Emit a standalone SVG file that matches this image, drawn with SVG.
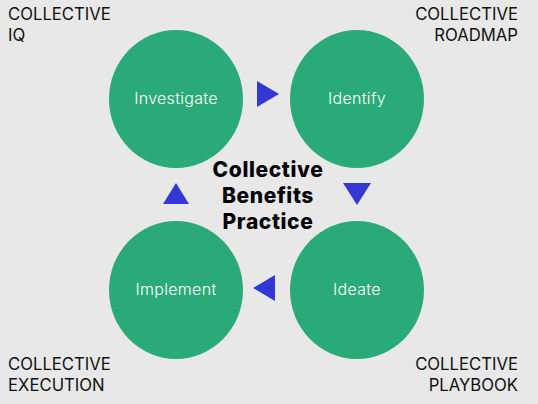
<svg xmlns="http://www.w3.org/2000/svg" width="538" height="404" viewBox="0 0 538 404">
  <style>
    .node circle, .node ellipse { fill: #2aaa78; }
    .node text { fill: #ffffff; font-family: Inter, "Open Sans", "Liberation Sans", sans-serif; font-size: 16px; font-weight: 300; text-anchor: middle; letter-spacing: 0.3px; }
    .arrow { fill: #3338d4; }
    .corner { fill: #111111; font-family: Inter, "Open Sans", "Liberation Sans", sans-serif; font-size: 16.7px; font-weight: 400; }
    .title { fill: #000000; font-family: Inter, "Open Sans", "Liberation Sans", sans-serif; font-size: 21px; font-weight: 800; text-anchor: middle; letter-spacing: 0.6px; }
  </style>
  <rect x="0" y="0" width="538" height="404" fill="#e8e8e8"/>

  <g id="investigate" class="node">
    <ellipse cx="176" cy="99" rx="67" ry="69"/>
    <text x="176" y="104">Investigate</text>
  </g>
  <g id="identify" class="node">
    <ellipse cx="357" cy="99" rx="67" ry="69"/>
    <text x="357" y="104">Identify</text>
  </g>
  <g id="ideate" class="node">
    <ellipse cx="357" cy="290" rx="67" ry="69"/>
    <text x="357" y="295">Ideate</text>
  </g>
  <g id="implement" class="node">
    <ellipse cx="176" cy="290" rx="67" ry="69"/>
    <text x="176" y="295">Implement</text>
  </g>

  <g id="connectors">
    <polygon class="arrow" points="257,81 279,94 257,107"/>
    <polygon class="arrow" points="343,183 371,183 357,205"/>
    <polygon class="arrow" points="275,275 275,301 253,288"/>
    <polygon class="arrow" points="163,204 189,204 176,183"/>
  </g>

  <g id="title">
    <text class="title" x="268" y="177">Collective</text>
    <text class="title" x="268" y="203">Benefits</text>
    <text class="title" x="268" y="229">Practice</text>
  </g>

  <g id="corner-labels">
    <text class="corner" x="8" y="20">COLLECTIVE</text>
    <text class="corner" x="8" y="41">IQ</text>
    <text class="corner" x="518" y="20" text-anchor="end">COLLECTIVE</text>
    <text class="corner" x="518" y="41" text-anchor="end">ROADMAP</text>
    <text class="corner" x="8" y="370">COLLECTIVE</text>
    <text class="corner" x="8" y="391">EXECUTION</text>
    <text class="corner" x="518" y="370" text-anchor="end">COLLECTIVE</text>
    <text class="corner" x="518" y="391" text-anchor="end">PLAYBOOK</text>
  </g>
</svg>
